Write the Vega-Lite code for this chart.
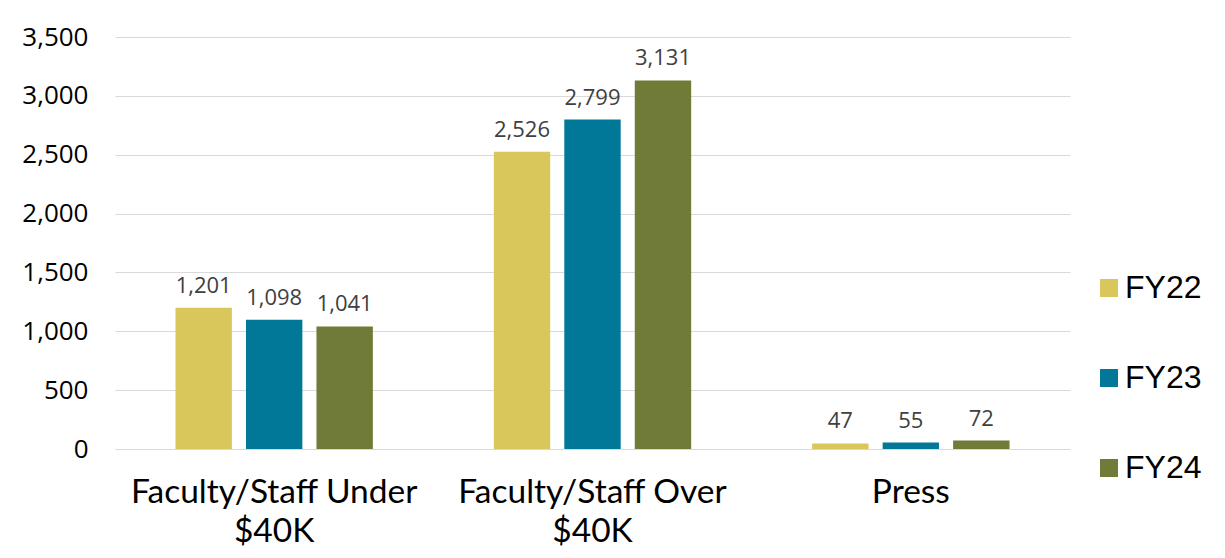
{
  "$schema": "https://vega.github.io/schema/vega-lite/v6.json",
  "width": 955,
  "height": 412,
  "autosize": {"type": "none"},
  "padding": {"left": 115, "top": 37, "right": 155, "bottom": 109},
  "background": "white",
  "data": {
    "values": [
      {"category": "Faculty/Staff Under $40K", "year": "FY22", "value": 1201},
      {"category": "Faculty/Staff Under $40K", "year": "FY23", "value": 1098},
      {"category": "Faculty/Staff Under $40K", "year": "FY24", "value": 1041},
      {"category": "Faculty/Staff Over $40K", "year": "FY22", "value": 2526},
      {"category": "Faculty/Staff Over $40K", "year": "FY23", "value": 2799},
      {"category": "Faculty/Staff Over $40K", "year": "FY24", "value": 3131},
      {"category": "Press", "year": "FY22", "value": 47},
      {"category": "Press", "year": "FY23", "value": 55},
      {"category": "Press", "year": "FY24", "value": 72}
    ]
  },
  "encoding": {
    "x": {
      "field": "category",
      "type": "nominal",
      "sort": ["Faculty/Staff Under $40K", "Faculty/Staff Over $40K", "Press"],
      "scale": {"paddingInner": 0.38, "paddingOuter": 0.19},
      "axis": {
        "title": null,
        "labelAngle": 0,
        "domain": false,
        "ticks": false,
        "labelFont": "Lato",
        "labelFontSize": 33.5,
        "labelColor": "#000000",
        "labelLineHeight": 39,
        "labelPadding": 27,
        "labelLimit": 0,
        "labelExpr": "indexof(datum.value, ' $') > 0 ? [substring(datum.value, 0, indexof(datum.value, ' $')), substring(datum.value, indexof(datum.value, ' $') + 1)] : datum.value"
      }
    },
    "xOffset": {
      "field": "year",
      "type": "nominal",
      "sort": ["FY22", "FY23", "FY24"],
      "scale": {"paddingInner": 0.2, "paddingOuter": 0}
    },
    "y": {
      "field": "value",
      "type": "quantitative",
      "scale": {"domain": [0, 3500], "nice": false},
      "axis": {
        "title": null,
        "values": [0, 500, 1000, 1500, 2000, 2500, 3000, 3500],
        "format": ",.0f",
        "domain": false,
        "ticks": false,
        "labelFont": "Open Sans",
        "labelFontSize": 26,
        "labelColor": "#000000",
        "labelPadding": 27,
        "gridColor": "#d9d9d9",
        "gridWidth": 1
      }
    }
  },
  "layer": [
    {
      "mark": {"type": "bar"},
      "encoding": {
        "color": {
          "field": "year",
          "type": "nominal",
          "scale": {"domain": ["FY22", "FY23", "FY24"], "range": ["#DAC75C", "#027899", "#6F7B36"]},
          "legend": {
            "title": null,
            "orient": "none",
            "legendX": 978,
            "legendY": 235,
            "direction": "vertical",
            "symbolType": "square",
            "symbolSize": 324,
            "symbolStrokeWidth": 0,
            "labelFont": "Liberation Sans",
            "labelFontSize": 32,
            "labelColor": "#000000",
            "labelOffset": 0,
            "rowPadding": 58
          }
        }
      }
    },
    {
      "mark": {"type": "text", "baseline": "bottom", "dy": -10, "font": "Open Sans", "fontSize": 22, "fill": "#404040"},
      "encoding": {
        "text": {"field": "value", "type": "quantitative", "format": ","}
      }
    }
  ],
  "config": {"view": {"stroke": null}}
}
